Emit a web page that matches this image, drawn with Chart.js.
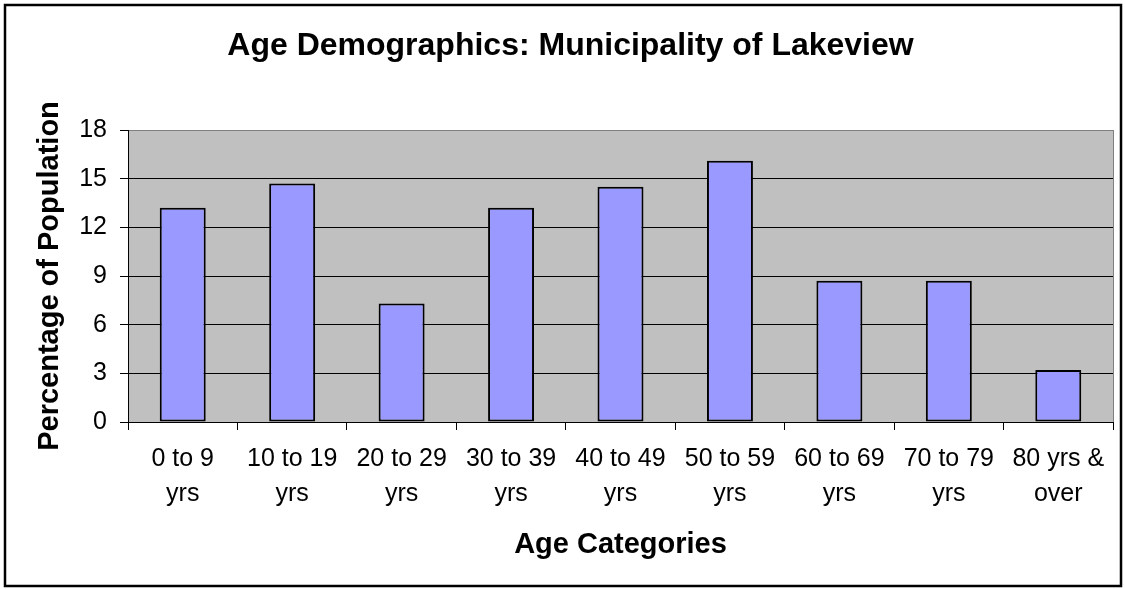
<!DOCTYPE html>
<html>
<head>
<meta charset="utf-8">
<script src="https://cdn.jsdelivr.net/npm/chart.js@4"></script>
<style>
    html, body { margin: 0; padding: 0; background: #fff; }
    #wrap { width: 1125px; height: 589px; }
</style>
</head>
<body>
<div id="wrap"><canvas id="ageChart" width="1125" height="589"></canvas></div>
<script>
// data
const categories = [
    ['0 to 9', 'yrs'],
    ['10 to 19', 'yrs'],
    ['20 to 29', 'yrs'],
    ['30 to 39', 'yrs'],
    ['40 to 49', 'yrs'],
    ['50 to 59', 'yrs'],
    ['60 to 69', 'yrs'],
    ['70 to 79', 'yrs'],
    ['80 yrs &', 'over']
];
const percentages = [13.2, 14.7, 7.3, 13.2, 14.5, 16.1, 8.7, 8.7, 3.2];
const yTicks = [0, 3, 6, 9, 12, 15, 18];

const FONT = '"Liberation Sans", Arial, sans-serif';

// gray plot background + frame like the old Excel chart
const plotFrame = {
    id: 'plotFrame',
    beforeDraw(chart) {
        const c = chart.ctx;
        const a = chart.chartArea;
        c.save();
        c.fillStyle = '#fff';
        c.fillRect(0, 0, chart.width, chart.height);
        c.fillStyle = '#C0C0C0';
        c.fillRect(a.left, a.top, a.right - a.left, a.bottom - a.top);
        c.restore();
    },
    afterDraw(chart) {
        const c = chart.ctx;
        const a = chart.chartArea;
        c.save();
        c.strokeStyle = '#808080';
        c.lineWidth = 1;
        c.beginPath();
        c.moveTo(a.right + 0.5, a.top);
        c.lineTo(a.right + 0.5, a.bottom);
        c.stroke();
        // outer chart border
        c.strokeStyle = '#000';
        c.lineWidth = 2.5;
        c.strokeRect(5, 5, 1116, 581);
        c.restore();
    }
};

new Chart(document.getElementById('ageChart'), {
    type: 'bar',
    data: {
        labels: categories,
        datasets: [{
            label: 'Percentage of Population',
            data: percentages,
            backgroundColor: '#9999FF',
            borderColor: '#000',
            borderWidth: 2,
            borderSkipped: false,
            barPercentage: 0.42,
            categoryPercentage: 1
        }]
    },
    options: {
        responsive: false,
        animation: false,
        devicePixelRatio: 1,
        // left padding shifts the title centre to match the original
        layout: { padding: { left: 28, right: 12, top: 0, bottom: 0 } },
        plugins: {
            legend: { display: false },
            tooltip: { enabled: false },
            title: {
                display: true,
                text: 'Age Demographics: Municipality of Lakeview',
                color: '#000',
                font: { family: FONT, size: 32, weight: 'bold' },
                padding: { top: 27, bottom: 64.6 }
            }
        },
        scales: {
            x: {
                grid: {
                    offset: true,
                    drawOnChartArea: false,
                    color: '#000',
                    tickLength: 8
                },
                border: { color: '#000', width: 1 },
                ticks: {
                    color: '#000',
                    font: { family: FONT, size: 25, lineHeight: 1.38 },
                    padding: 12,
                    maxRotation: 0,
                    autoSkip: false
                },
                title: {
                    display: true,
                    text: 'Age Categories',
                    color: '#000',
                    font: { family: FONT, size: 29, weight: 'bold' },
                    padding: { top: 0, bottom: 27 }
                },
                afterFit(scale) { scale.height = 167; }
            },
            y: {
                min: 0,
                max: 18,
                afterBuildTicks(scale) {
                    scale.ticks = yTicks.map(v => ({ value: v }));
                },
                grid: {
                    color: ctx => (ctx.tick && ctx.tick.value === 18) ? '#808080' : '#000',
                    tickColor: '#000',
                    tickLength: 8
                },
                border: { color: '#000', width: 1 },
                ticks: {
                    color: '#000',
                    font: { family: FONT, size: 25 },
                    padding: 13
                },
                title: {
                    display: true,
                    text: 'Percentage of Population',
                    color: '#000',
                    font: { family: FONT, size: 29, weight: 'bold' },
                    padding: { top: 4.6, bottom: 0 }
                },
                afterFit(scale) { scale.width = 100; }
            }
        }
    },
    plugins: [plotFrame]
});
</script>
</body>
</html>
